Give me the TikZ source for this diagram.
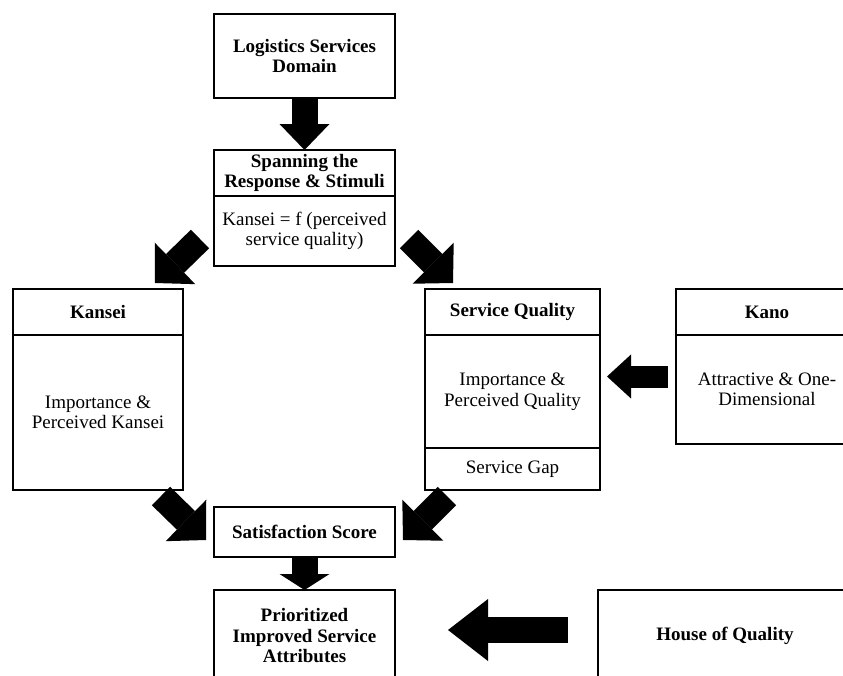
\documentclass[tikz,border=0pt]{standalone}
\usepackage{fontspec}
\setmainfont{Liberation Serif}
\usetikzlibrary{arrows.meta,positioning,calc}

\begin{document}
\begin{tikzpicture}[x=1pt, y=-1pt,
  box/.style={draw, line width=2.2pt, inner sep=0pt, outer sep=0pt, align=center,
    font=\fontsize{19}{20.5}\selectfont},
  hd/.style={box, font=\fontsize{19}{20.5}\selectfont\bfseries},
  arr/.style={line width=26pt, -{Triangle[length=26pt, width=50pt, line width=0pt]}},
  darr/.style={line width=26pt, -{Triangle[length=28pt, width=58pt, line width=0pt]}},
  harr/.style={line width=22pt, -{Triangle[length=24pt, width=44pt, line width=0pt]}}
]
\useasboundingbox (0,0) rectangle (843,675);
\clip (0,0) rectangle (843,675);

\node[hd, minimum width=181pt, minimum height=84pt] (log) at (304.5,56) {Logistics Services\\Domain};
\node[hd, minimum width=181pt, minimum height=46pt] (spanh) at (304.5,173) {Spanning the\\Response \& Stimuli};
\node[box, minimum width=181pt, minimum height=70pt, below=0pt of spanh] (spanb) {Kansei = f (perceived\\service quality)};

\node[hd, minimum width=170pt, minimum height=46pt] (kanh) at (98,312) {Kansei};
\node[box, minimum width=170pt, minimum height=155pt, below=0pt of kanh] (kanb) {Importance \&\\Perceived Kansei};

\node[hd, minimum width=175pt, minimum height=46pt] (sqh) at (512.5,312) {Service Quality};
\node[box, minimum width=175pt, minimum height=113pt, below=0pt of sqh] (sqb) {Importance \&\\Perceived Quality};
\node[box, minimum width=175pt, minimum height=42pt, below=0pt of sqb] (gap) {Service Gap};

\node[hd, minimum width=182pt, minimum height=46pt] (kanoh) at (767,312) {Kano};
\node[box, minimum width=182pt, minimum height=109pt, below=0pt of kanoh] (kanob) {Attractive \& One-\\Dimensional};

\node[hd, minimum width=181pt, minimum height=50pt] (sat) at (304.5,532) {Satisfaction Score};
\node[hd, minimum width=181pt, minimum height=92pt] (prio) at (304.5,636) {Prioritized\\Improved Service\\Attributes};
\node[hd, minimum width=254pt, minimum height=92pt] (hoq) at (725,636) {House of Quality};

\draw[arr] (log) -- (spanh);
\draw[darr] ($(spanb.south west)+(-14,-27)$) -- ($(kanh.north east)+(-28,-6)$);
\draw[darr] ($(spanb.south east)+(14,-27)$) -- ($(sqh.north west)+(28,-6)$);
\draw[harr, shorten <=8pt, shorten >=7pt] ($(kanob.west)+(0,-13)$) -- ($(sqb.east)+(0,-15)$);
\draw[darr] ($(kanb.south east)+(-22,6)$) -- ($(sat.west)+(-8,8)$);
\draw[darr] ($(gap.south west)+(22,6)$) -- ($(sat.east)+(8,8)$);
\draw[arr, -{Triangle[length=16pt, width=50pt, line width=0pt]}] (sat) -- (prio);
\draw[arr, -{Triangle[length=40pt, width=62pt, line width=0pt]}, shorten <=30pt, shorten >=53pt]
  ($(hoq.west)+(0,-6)$) -- ($(prio.east)+(0,-6)$);
\end{tikzpicture}
\end{document}
